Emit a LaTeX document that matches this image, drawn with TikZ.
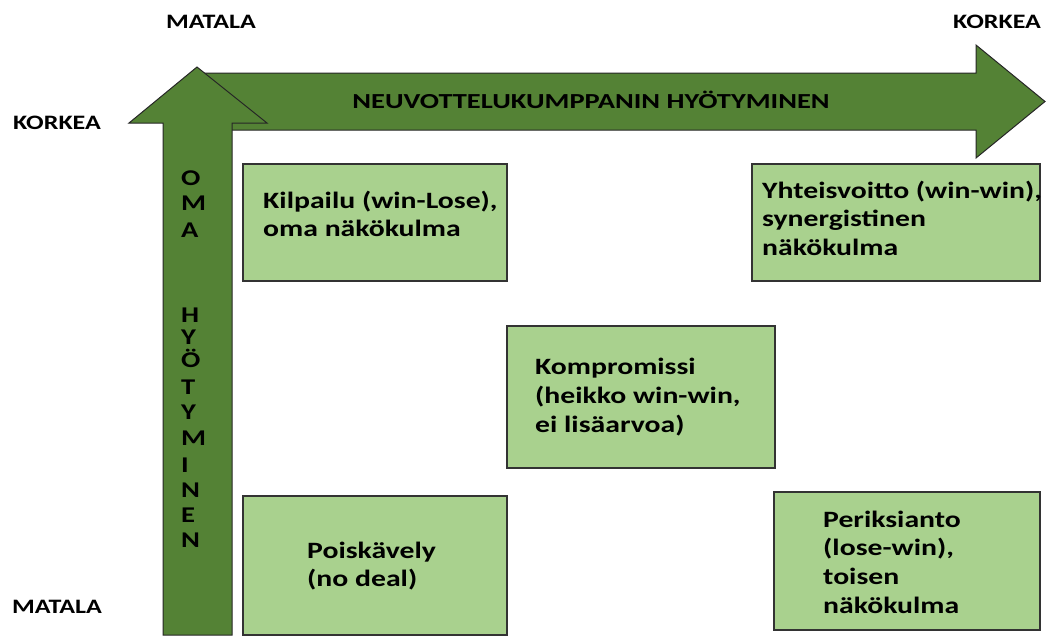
\documentclass[tikz,border=0pt]{standalone}
\usepackage{fontspec}
\setmainfont{Carlito}[FakeStretch=1.27]
\newfontfamily\titlefont{Carlito}[FakeStretch=1.33]
\definecolor{darkgreen}{HTML}{548235}
\definecolor{lightgreen}{HTML}{A9D18E}
\definecolor{edgegray}{HTML}{333333}
\begin{document}
\begin{tikzpicture}[x=1pt,y=-1pt,
  arrowshape/.style={fill=darkgreen,draw=black!85,line width=1pt,line join=miter},
  quadbox/.style={draw=edgegray,fill=lightgreen,line width=1.2pt,rectangle,inner sep=0pt},
  boxtext/.style={inner sep=0pt,align=left,anchor=west,font=\bfseries\fontsize{23.4}{28.6}\selectfont},
  axislabel/.style={inner sep=0pt,anchor=base,font=\bfseries\fontsize{20.5}{24}\selectfont},
  titletext/.style={inner sep=0pt,anchor=base,font=\titlefont\bfseries\fontsize{21.4}{24}\selectfont},
  vletter/.style={inner sep=0pt,anchor=base west,font=\bfseries\fontsize{22.5}{24}\selectfont}]
\useasboundingbox (0,0) rectangle (1046,637);
% horizontal arrow
\draw[arrowshape] (200,73) -- (976,73) -- (976,45) -- (1045,101.5) -- (976,158) -- (976,130) -- (200,130) -- cycle;
% vertical arrow
\draw[arrowshape] (163,635) -- (163,123) -- (129,123) -- (197,67) -- (267,123) -- (232,123) -- (232,635) -- cycle;
% title
\node[titletext] (title) at (591,108.5) {NEUVOTTELUKUMPPANIN HYÖTYMINEN};
% axis labels
\node[axislabel] (mtop) at (211,28) {MATALA};
\node[axislabel] (ktop) at (997,28) {KORKEA};
\node[axislabel] (kleft) at (57,129) {KORKEA};
\node[axislabel] (mleft) at (57,613) {MATALA};
% vertical letters
\foreach \ch/\yy [count=\i] in {O/178,M/203,A/230,H/315,Y/337,Ö/360,T/387,Y/412,M/438,I/465,N/490,E/515,N/540}
  \node[vletter] (v\i) at (181,\yy+7.5) {\ch};
% boxes
\node[quadbox,minimum width=264pt,minimum height=117pt] (kil) at (375,222.5) {};
\node[quadbox,minimum width=288pt,minimum height=117pt] (yht) at (896,222.5) {};
\node[quadbox,minimum width=268pt,minimum height=142pt] (kom) at (641,397) {};
\node[quadbox,minimum width=264pt,minimum height=139pt] (poi) at (375,565.5) {};
\node[quadbox,minimum width=266pt,minimum height=138pt] (per) at (907,561) {};
% box texts
\node[boxtext] (kilt) at (263,214) {Kilpailu (win-Lose),\\oma näkökulma};
\node[boxtext] (yhtt) at (762,218) {Yhteisvoitto (win-win),\\synergistinen\\näkökulma};
\node[boxtext] (komt) at (535,397) {Kompromissi\\(heikko win-win,\\ei lisäarvoa)};
\node[boxtext] (poit) at (307,566) {Poiskävely\\(no deal)};
\node[boxtext] (pert) at (823,562) {Periksianto\\(lose-win),\\toisen\\näkökulma};
\end{tikzpicture}
\end{document}
